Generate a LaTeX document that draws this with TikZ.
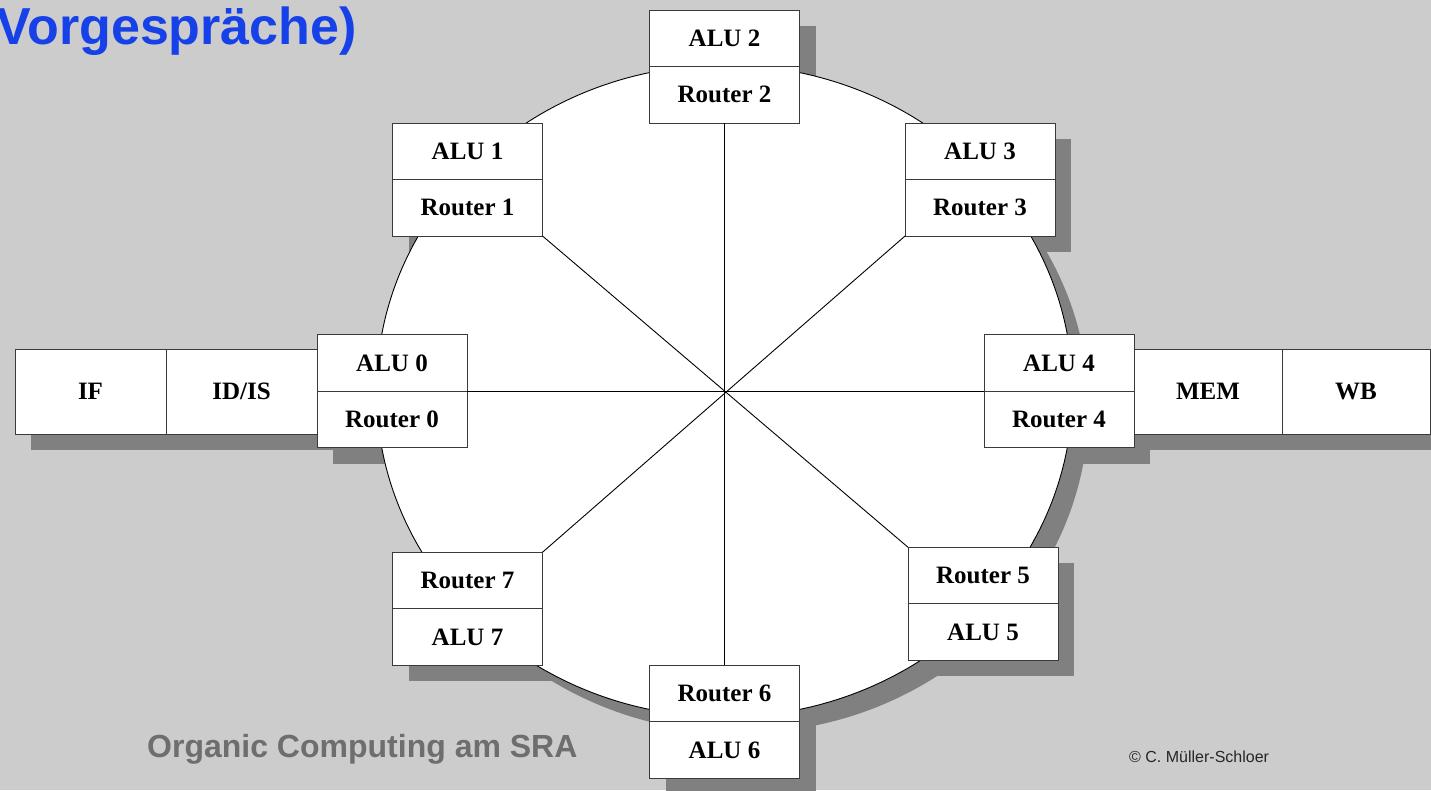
\documentclass[tikz,border=0pt]{standalone}
\usepackage{fontspec}
\setmainfont{Liberation Serif}
\newfontfamily\arialfont{Liberation Sans}
\definecolor{bggray}{HTML}{CCCCCC}
\definecolor{shgray}{HTML}{808080}
\definecolor{titleblue}{RGB}{22,64,232}
\definecolor{footgray}{HTML}{6E6E6E}
\definecolor{edgegray}{HTML}{3A3A3A}
\pgfdeclarelayer{bg}
\pgfdeclarelayer{shadow}
\pgfdeclarelayer{ell}
\pgfsetlayers{bg,shadow,ell,main}
\tikzset{
  half/.style={draw=edgegray, fill=white, line width=0.9pt, minimum width=150pt, minimum height=56.5pt, inner sep=0pt, outer sep=0pt, font=\fontsize{25}{28}\selectfont\bfseries},
  stage/.style={draw=edgegray, fill=white, line width=0.9pt, minimum height=85pt, inner sep=0pt, outer sep=0pt, font=\fontsize{25}{28}\selectfont\bfseries},
  spoke/.style={line width=0.9pt, draw=black},
  shadowfill/.style={fill=shgray}
}
\begin{document}
\begin{tikzpicture}[x=1pt,y=-1pt]
\useasboundingbox (0,0) rectangle (1431,790);
\begin{pgfonlayer}{bg}
\fill[bggray] (0,0) rectangle (1431,790);
\end{pgfonlayer}
% boxes
\node[half] (a2) at (724.5,38.25) {ALU 2};
\node[half] (r2) at (724.5,94.75) {Router 2};
\node[half] (a1) at (467.5,151.25) {ALU 1};
\node[half] (r1) at (467.5,207.75) {Router 1};
\node[half] (a3) at (980,151.25) {ALU 3};
\node[half] (r3) at (980,207.75) {Router 3};
\node[half] (a0) at (392,363) {ALU 0};
\node[half] (r0) at (392,419.5) {Router 0};
\node[half] (a4) at (1059,363) {ALU 4};
\node[half] (r4) at (1059,419.5) {Router 4};
\node[half] (r7) at (467.5,580.5) {Router 7};
\node[half] (a7) at (467.5,637) {ALU 7};
\node[half] (r5) at (983,575.5) {Router 5};
\node[half] (a5) at (983,632) {ALU 5};
\node[half] (r6) at (724.5,693.5) {Router 6};
\node[half] (a6) at (724.5,750) {ALU 6};
% pipeline stages
\node[stage, minimum width=151pt] (if) at (90.5,391.5) {IF};
\node[stage, minimum width=151pt] (idis) at (241.5,391.5) {ID/IS};
\node[stage, minimum width=148pt] (mem) at (1208,391.5) {MEM};
\node[stage, minimum width=148pt] (wb) at (1356,391.5) {WB};
% spokes
\draw[spoke] (r2.south) -- (r6.north);
\draw[spoke] (r0.north east) -- (a4.south west);
\draw[spoke] (r1.south east) -- (r5.north west);
\draw[spoke] (r3.south west) -- (r7.north east);
% shadows
\begin{pgfonlayer}{shadow}
\fill[shadowfill] (740.5,407) ellipse [x radius=348, y radius=326];
\foreach \t/\b in {a2/r2,a1/r1,a3/r3,a0/r0,a4/r4,r7/a7,r5/a5,r6/a6,if/idis,mem/wb}{
  \fill[shadowfill] ([shift={(16,16)}]\t.north west) rectangle ([shift={(16,16)}]\b.south east);
}
\end{pgfonlayer}
\begin{pgfonlayer}{ell}
\draw[fill=white, draw=black, line width=0.9pt] (724.5,391) ellipse [x radius=348, y radius=326];
\end{pgfonlayer}
% texts
\node[anchor=base east, inner sep=0pt, text=titleblue, font=\arialfont\fontsize{52}{56}\selectfont\bfseries] (title) at (357,44) {Vorgespräche)};
\node[anchor=base west, inner sep=0pt, text=footgray, font=\arialfont\fontsize{32}{36}\selectfont\bfseries] (org) at (147,757) {Organic Computing am SRA};
\node[anchor=base west, inner sep=0pt, text=black!85, font=\arialfont\fontsize{16}{18}\selectfont] (copy) at (1129,762) {© C. Müller-Schloer};
\end{tikzpicture}
\end{document}
